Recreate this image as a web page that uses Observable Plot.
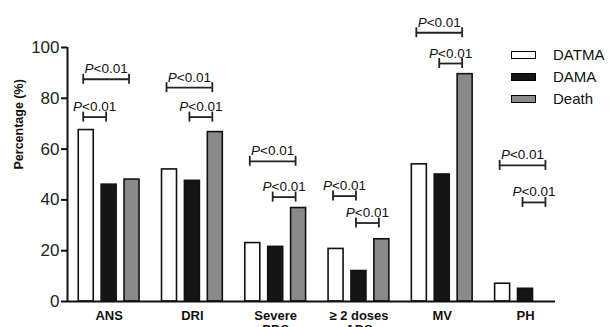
<!DOCTYPE html>
<html><head><meta charset="utf-8">
<script src="https://cdn.jsdelivr.net/npm/d3@7"></script>
<script src="https://cdn.jsdelivr.net/npm/@observablehq/plot@0.6"></script>
<style>
body{margin:0;background:#fff;font-family:"Liberation Sans",Arial,sans-serif;}
#wrap{position:relative;width:615px;height:327px;overflow:hidden;}
#legend{position:absolute;left:511px;top:44px;}
.row{display:flex;align-items:center;height:22px;}
.sw{width:23px;height:6px;border:1.5px solid #000;margin-right:17px;}
.lab{font-size:15px;color:#111;line-height:22px;}
</style></head><body><div id="wrap"></div>
<script>
const categories = ["ANS", "DRI", "Severe\nPDS", "≥ 2 doses\nADS", "MV", "PH"];
const series = ["DATMA", "DAMA", "Death"];
const datma = [67.5, 52, 23, 20.7, 54, 7];
const dama = [46, 47.5, 21.5, 12, 50, 5];
const death = [48, 66.7, 36.8, 24.5, 89.5, 0];
const colors = ["#ffffff", "#151515", "#8a8a8a"];
const yTicks = [0, 20, 40, 60, 80, 100];
const bracketGroup = [0, 0, 1, 1, 2, 2, 3, 3, 4, 4, 5, 5];
const bracketFrom  = [0, 0, 0, 1, 0, 1, 0, 1, 0, 1, 0, 1];
const bracketTo    = [2, 1, 2, 2, 2, 2, 1, 2, 2, 2, 2, 2];
const bracketY     = [87.5, 72.6, 84.2, 72.6, 55.2, 41.1, 41.5, 30.9, 105.8, 93.7, 53.6, 39.0];
const bracketLabel = "P<0.01";
const yTitle = "Percentage (%)";

const values = [datma, dama, death];
const slot = 0.275, half = 0.09;
const rows = [];
categories.forEach((c, g) => series.forEach((s, k) => {
  const v = values[k][g];
  if (v > 0) rows.push({g, k, s, v});
}));
const brackets = bracketGroup.map((g, i) => ({
  x1: g + (bracketFrom[i] - 1) * slot,
  x2: g + (bracketTo[i] - 1) * slot,
  y: bracketY[i]
}));

const plot = Plot.plot({
  width: 615, height: 327,
  marginLeft: 67, marginRight: 60, marginTop: 47, marginBottom: 26,
  style: {fontFamily: '"Liberation Sans", Arial, sans-serif', background: "#fff", color: "#111"},
  x: {type: "linear", domain: [-0.5, 5.36], axis: null},
  y: {domain: [0, 100], axis: null},
  color: {domain: series, range: colors},
  marks: [
    Plot.rectY(rows, {x1: d => d.g + (d.k - 1) * slot - half, x2: d => d.g + (d.k - 1) * slot + half,
      y1: 0, y2: "v", fill: "s", stroke: "#111", strokeWidth: 1.6}),
    Plot.ruleY([0], {stroke: "#111", strokeWidth: 2}),
    Plot.ruleX([-0.5], {y1: 0, y2: 100, stroke: "#111", strokeWidth: 2}),
    Plot.axisY(yTicks, {tickSize: 6, fontSize: 17, tickPadding: 2, stroke: "#111", strokeWidth: 2, fill: "#222"}),
    Plot.axisX(d3.range(categories.length), {tickSize: 0, tickFormat: i => categories[i],
      fontSize: 13, fontWeight: "bold", tickPadding: 9, lineHeight: 1.05, fill: "#111"}),
    Plot.text([yTitle], {frameAnchor: "left", rotate: -90, dx: -49, dy: -5, fontSize: 12.5, fontWeight: "bold", fill: "#111"}),
    Plot.ruleY(brackets, {x1: "x1", x2: "x2", y: "y", dx: -3, stroke: "#222", strokeWidth: 1.8}),
    Plot.ruleX(brackets, {x: "x1", y1: "y", y2: "y", dx: -3, insetTop: -5, insetBottom: -5, stroke: "#222", strokeWidth: 1.8}),
    Plot.ruleX(brackets, {x: "x2", y1: "y", y2: "y", dx: -3, insetTop: -5, insetBottom: -5, stroke: "#222", strokeWidth: 1.8}),
    Plot.text(brackets, {x: d => (d.x1 + d.x2) / 2, y: "y", dx: -3, dy: -6, lineAnchor: "bottom",
      text: () => bracketLabel, fontSize: 13.5, fill: "#111"})
  ]
});

d3.select(plot).selectAll("text").each(function() {
  if (this.textContent === bracketLabel) {
    const t = d3.select(this);
    t.text("");
    t.append("tspan").attr("font-style", "italic").text("P");
    t.append("tspan").text(bracketLabel.slice(1));
  }
});

const wrap = document.getElementById("wrap");
wrap.appendChild(plot);
const legend = document.createElement("div");
legend.id = "legend";
series.forEach((s, k) => {
  const row = document.createElement("div"); row.className = "row";
  const sw = document.createElement("div"); sw.className = "sw"; sw.style.background = colors[k];
  const lab = document.createElement("span"); lab.className = "lab"; lab.textContent = s;
  row.appendChild(sw); row.appendChild(lab); legend.appendChild(row);
});
wrap.appendChild(legend);
</script></body></html>
